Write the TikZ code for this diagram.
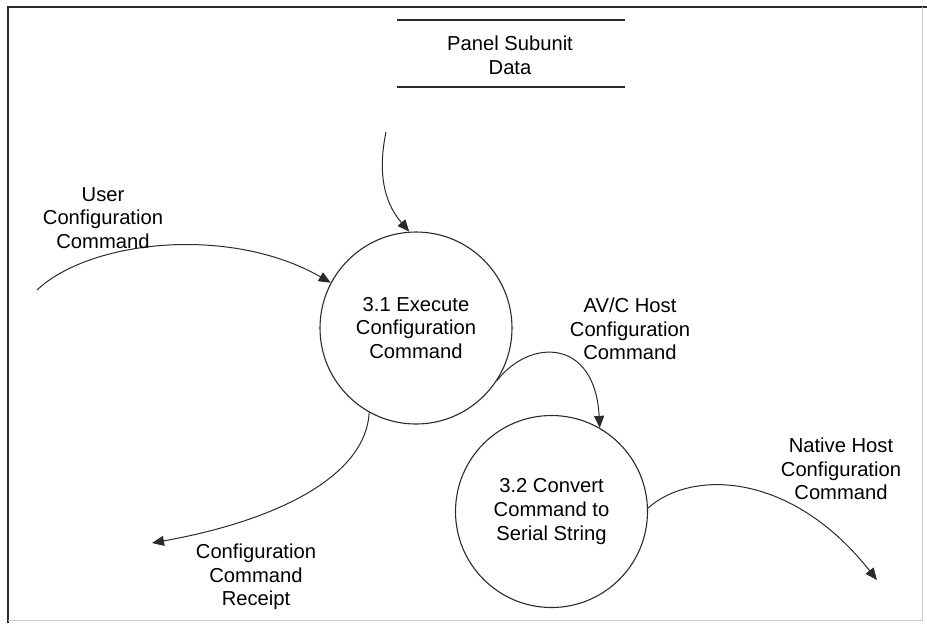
\documentclass[tikz,border=0pt]{standalone}
\usepackage{fontspec}
\setmainfont{Liberation Sans}
\usetikzlibrary{arrows.meta}
\definecolor{ink}{HTML}{2A2A2A}
\tikzset{
  process/.style={circle, draw=ink, line width=0.55pt, minimum size=96pt, inner sep=0pt,
    align=center, font=\fontsize{10.1pt}{11.8pt}\selectfont},
  flowlabel/.style={align=center, inner sep=0pt, font=\fontsize{10.1pt}{11.8pt}\selectfont},
  flow/.style={draw=ink, line width=0.5pt, -{Triangle[length=6pt,width=5pt]}},
  storeline/.style={draw=ink, line width=0.8pt}
}
\begin{document}
\begin{tikzpicture}[x={(0.5pt,0)}, y={(0,-0.5pt)}]
  \useasboundingbox (0,0) rectangle (927,623);
  % frame
  \draw[ink, line width=1pt] (8,623) -- (8,7) -- (927,7);
  \draw[black!20, line width=0.5pt] (922,7) -- (922,620) -- (8,620);

  % data store
  \draw[storeline] (397,20) -- (625,20);
  \draw[storeline] (397,87) -- (625,87);
  \node[flowlabel] (store) at (510,55) {Panel Subunit\\Data};
  \coordinate (storeout) at (386,132);

  % processes
  \node[process] (p1) at (416,328) {3.1 Execute\\Configuration\\Command};
  \node[process] (p2) at (551.5,511.5) {3.2 Convert\\Command to\\Serial String};

  % external ends of flows
  \coordinate (userin) at (37,290);
  \coordinate (receiptout) at (152,543);
  \coordinate (nativeout) at (877,580);

  % flows
  \draw[flow] (storeout) .. controls (376,180) and (388,207) .. (p1.94);
  \draw[flow] (userin) .. controls (90,240) and (230,225) .. (p1.152);
  \draw[flow] (p1.-119.5) .. controls (366,475) and (280,520) .. (receiptout);
  \draw[flow] (p1.-33) .. controls (530,338) and (595,338) .. (p2.60);
  \draw[flow] (p2.2) .. controls (690,470) and (790,470) .. (nativeout);

  % flow labels
  \node[flowlabel] (luser) at (103,218) {User\\Configuration\\Command};
  \node[flowlabel] (lavc) at (630,329) {AV/C Host\\Configuration\\Command};
  \node[flowlabel] (lreceipt) at (256,577) {Configuration\\Command\\Receipt};
  \node[flowlabel] (lnative) at (841,469) {Native Host\\Configuration\\Command};
\end{tikzpicture}
\end{document}
